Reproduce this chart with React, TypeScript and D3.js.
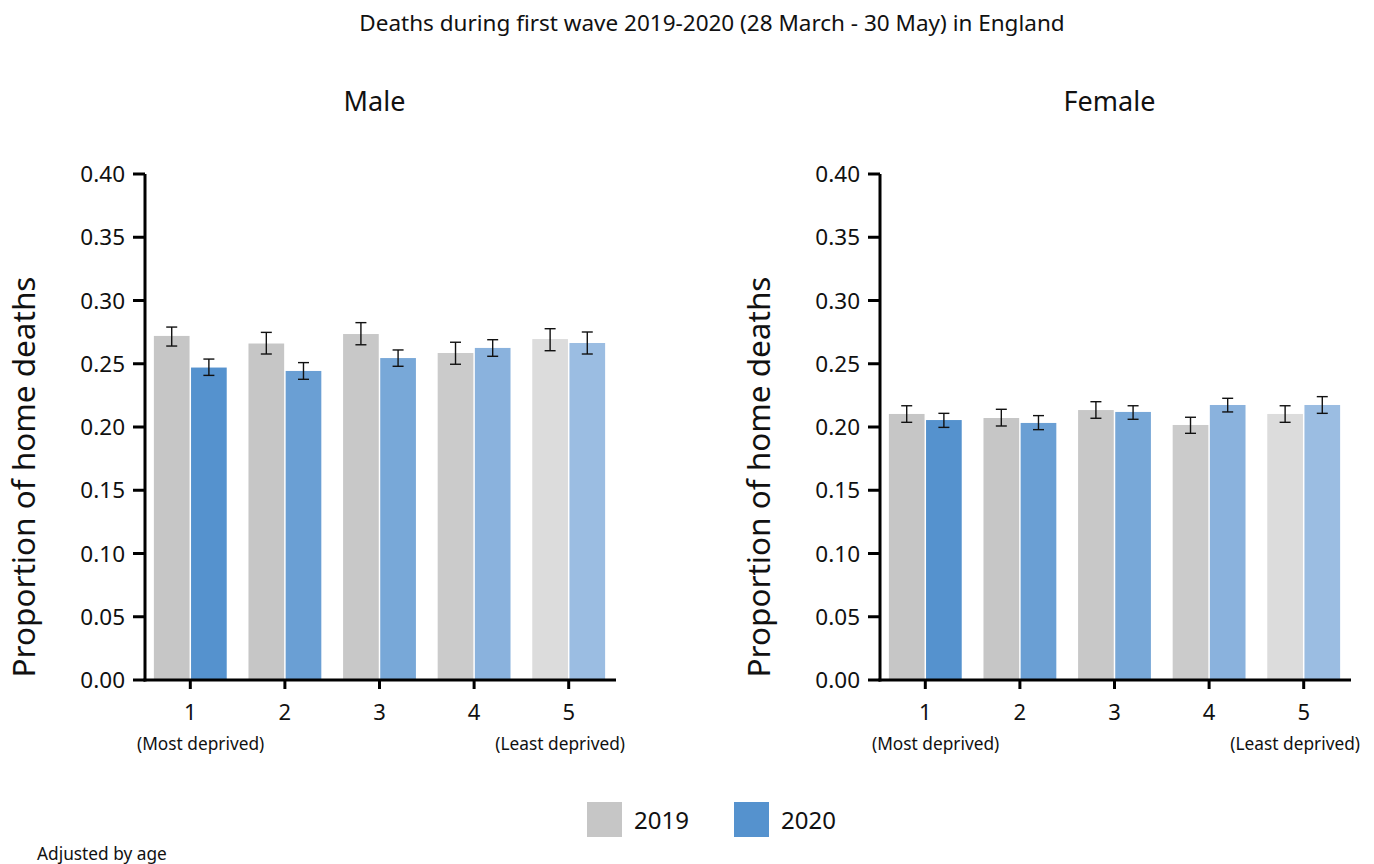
import React from "react";
import * as d3 from "d3";

// Deprivation quintiles (1 = most deprived, 5 = least deprived)
const quintiles = ["1", "2", "3", "4", "5"];
const years = ["2019", "2020"];
const yTicks = [0, 0.05, 0.1, 0.15, 0.2, 0.25, 0.3, 0.35, 0.4];

// Age-adjusted proportion of deaths occurring at home, with 95% CI
const male2019 = [0.272, 0.266, 0.2735, 0.2585, 0.2695];
const male2019Lo = [0.264, 0.2577, 0.265, 0.2496, 0.2603];
const male2019Hi = [0.279, 0.2748, 0.2825, 0.267, 0.2777];
const male2020 = [0.247, 0.2443, 0.2545, 0.2625, 0.2664];
const male2020Lo = [0.2408, 0.2377, 0.248, 0.2559, 0.2577];
const male2020Hi = [0.2537, 0.2509, 0.2609, 0.269, 0.2751];

const female2019 = [0.2103, 0.2071, 0.2134, 0.2016, 0.2103];
const female2019Lo = [0.2037, 0.2008, 0.2069, 0.195, 0.2037];
const female2019Hi = [0.2168, 0.214, 0.22, 0.2077, 0.2168];
const female2020 = [0.2055, 0.2032, 0.2119, 0.2174, 0.2174];
const female2020Lo = [0.1997, 0.1979, 0.2061, 0.2119, 0.2108];
const female2020Hi = [0.2108, 0.209, 0.2168, 0.2227, 0.224];

const colors2019 = ["#c6c6c6", "#c6c6c6", "#c8c8c8", "#cbcbcb", "#dcdcdc"];
const colors2020 = ["#5592ce", "#6a9fd4", "#78a8d8", "#8ab2dd", "#9bbde2"];

const FONT = "'Noto Sans', 'Open Sans', sans-serif";

type Series = { value: number[]; lo: number[]; hi: number[]; colors: string[] };

function Panel({
  x0,
  title,
  series,
}: {
  x0: number;
  title: string;
  series: Series[];
}) {
  const width = 473;
  const top = 174;
  const bottom = 680;
  const y = d3.scaleLinear().domain([0, 0.4]).range([bottom, top]);
  const xb = d3
    .scaleBand<string>()
    .domain(quintiles)
    .range([0, width])
    .paddingInner(0.23)
    .paddingOuter(0.115);
  const xs = d3
    .scaleBand<string>()
    .domain(years)
    .range([0, xb.bandwidth()])
    .paddingInner(0.04);
  const fmt = d3.format(".2f");
  const axisX = 2; // y-axis line position relative to panel origin

  return (
    <g transform={`translate(${x0},0)`}>
      <text
        x={width / 2 - 5}
        y={111}
        textAnchor="middle"
        fontSize={27}
        fontFamily={FONT}
        fill="#111"
      >
        {title}
      </text>
      <text
        transform={`translate(${-108},${(top + bottom) / 2 + 50}) rotate(-90)`}
        textAnchor="middle"
        fontSize={31.5}
        fontFamily={FONT}
        fill="#111"
      >
        Proportion of home deaths
      </text>

      {/* bars */}
      {quintiles.map((q, i) => (
        <g key={q} transform={`translate(${xb(q)},0)`}>
          {series.map((s, j) => (
            <rect
              key={j}
              x={xs(years[j])}
              y={y(s.value[i])}
              width={xs.bandwidth()}
              height={y(0) - y(s.value[i])}
              fill={s.colors[i]}
            />
          ))}
          {series.map((s, j) => {
            const cx = (xs(years[j]) as number) + xs.bandwidth() / 2;
            return (
              <g key={"e" + j} stroke="#111" strokeWidth={1.4}>
                <line x1={cx} x2={cx} y1={y(s.lo[i])} y2={y(s.hi[i])} />
                <line x1={cx - 5.5} x2={cx + 5.5} y1={y(s.lo[i])} y2={y(s.lo[i])} />
                <line x1={cx - 5.5} x2={cx + 5.5} y1={y(s.hi[i])} y2={y(s.hi[i])} />
              </g>
            );
          })}
        </g>
      ))}

      {/* y axis */}
      <line x1={axisX} x2={axisX} y1={top} y2={bottom + 1.5} stroke="#000" strokeWidth={3} />
      {yTicks.map((t) => (
        <g key={t}>
          <line x1={axisX - 12} x2={axisX} y1={y(t)} y2={y(t)} stroke="#000" strokeWidth={3} />
          <text
            x={axisX - 20}
            y={y(t)}
            dy="0.36em"
            textAnchor="end"
            fontSize={22.5}
            fontFamily={FONT}
            fill="#111"
          >
            {fmt(t)}
          </text>
        </g>
      ))}

      {/* x axis */}
      <line x1={axisX - 1.5} x2={width} y1={bottom} y2={bottom} stroke="#000" strokeWidth={3} />
      {quintiles.map((q) => {
        const cx = (xb(q) as number) + xb.bandwidth() / 2;
        return (
          <g key={q}>
            <line x1={cx} x2={cx} y1={bottom} y2={bottom + 9} stroke="#000" strokeWidth={3} />
            <text
              x={cx}
              y={bottom + 40}
              textAnchor="middle"
              fontSize={22}
              fontFamily={FONT}
              fill="#111"
            >
              {q}
            </text>
          </g>
        );
      })}
      <text x={-6} y={bottom + 70} fontSize={17.3} fontFamily={FONT} fill="#111">
        (Most deprived)
      </text>
      <text
        x={width + 9}
        y={bottom + 70}
        textAnchor="end"
        fontSize={17.3}
        fontFamily={FONT}
        fill="#111"
      >
        (Least deprived)
      </text>
    </g>
  );
}

export default function App() {
  const male: Series[] = [
    { value: male2019, lo: male2019Lo, hi: male2019Hi, colors: colors2019 },
    { value: male2020, lo: male2020Lo, hi: male2020Hi, colors: colors2020 },
  ];
  const female: Series[] = [
    { value: female2019, lo: female2019Lo, hi: female2019Hi, colors: colors2019 },
    { value: female2020, lo: female2020Lo, hi: female2020Hi, colors: colors2020 },
  ];
  const legend = [
    { label: "2019", color: colors2019[0], x: 587 },
    { label: "2020", color: colors2020[0], x: 734 },
  ];
  return (
    <svg
      width={1374}
      height={864}
      style={{ position: "absolute", left: 0, top: 0, background: "#fff" }}
    >
      <text
        x={712}
        y={31}
        textAnchor="middle"
        fontSize={22.5}
        fontFamily={FONT}
        fill="#111"
      >
        Deaths during first wave 2019-2020 (28 March - 30 May) in England
      </text>
      <Panel x0={143} title="Male" series={male} />
      <Panel x0={878} title="Female" series={female} />
      {legend.map((l) => (
        <g key={l.label}>
          <rect x={l.x} y={802} width={35} height={35} fill={l.color} />
          <text x={l.x + 47} y={829} fontSize={24} fontFamily={FONT} fill="#111">
            {l.label}
          </text>
        </g>
      ))}
      <text x={37} y={860} fontSize={17.3} fontFamily={FONT} fill="#111">
        Adjusted by age
      </text>
    </svg>
  );
}
